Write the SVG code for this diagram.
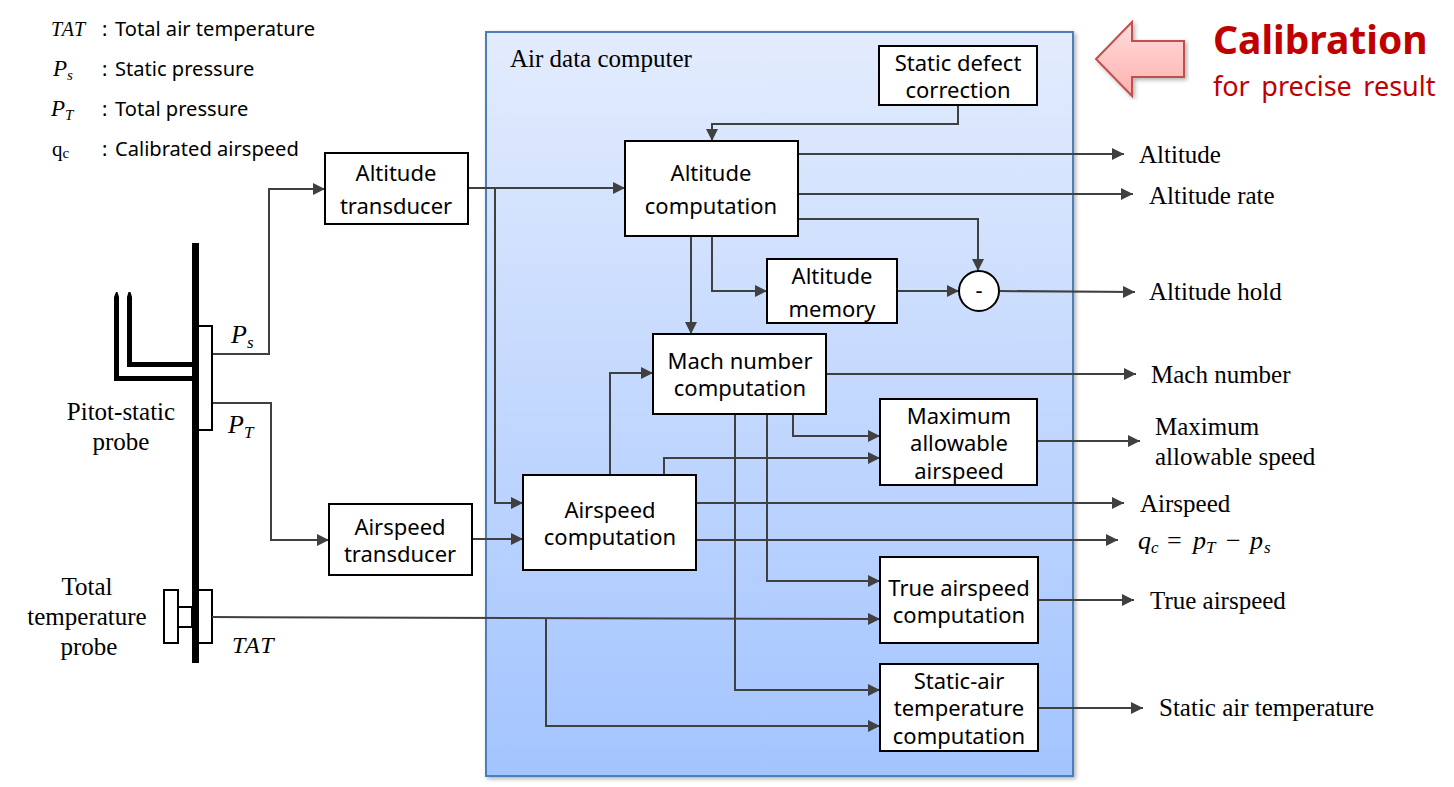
<svg xmlns="http://www.w3.org/2000/svg" width="1454" height="787" viewBox="0 0 1454 787">
<style>
.s{font-family:"Noto Sans","Open Sans",sans-serif;font-size:22px;fill:#000;text-anchor:middle}
.l{font-family:"Noto Sans","Open Sans",sans-serif;font-size:20.1px;fill:#000}
.r{font-family:"Liberation Serif",serif;font-size:25px;fill:#000}
.c{text-anchor:middle}
.m{font-family:"Liberation Serif",serif;font-style:italic;fill:#000}
.u{font-size:15px}
.v{font-size:17px}
.b{fill:#fff;stroke:#000;stroke-width:2}
.a{fill:none;stroke:#404040;stroke-width:2;marker-end:url(#h)}
.p{fill:none;stroke:#000;stroke-width:5}
</style>
<defs>
<marker id="h" markerUnits="userSpaceOnUse" markerWidth="12" markerHeight="12" refX="12" refY="6" orient="auto"><path d="M0 0L12 6L0 12z" fill="#404040"/></marker>
<linearGradient id="g1" x1="0" y1="0" x2="0" y2="1"><stop offset="0" stop-color="#e3ecfd"/><stop offset="1" stop-color="#a3c4ff"/></linearGradient>
<linearGradient id="g2" x1="0" y1="0" x2="0" y2="1"><stop offset="0" stop-color="#ffdcdc"/><stop offset="1" stop-color="#ffb0b0"/></linearGradient>
<filter id="sh" x="-5%" y="-5%" width="110%" height="110%"><feDropShadow dx="2" dy="2" stdDeviation="2" flood-color="#000" flood-opacity=".3"/></filter>
</defs>

<rect id="adc" x="486" y="32" width="587" height="744" fill="url(#g1)" stroke="#4a7ebb" stroke-width="2" filter="url(#sh)"/>
<text class="r" x="510" y="67">Air data computer</text>

<g id="legend">
<text class="m" x="51" y="36" style="font-size:20px" letter-spacing="1">TAT</text><text class="l" x="102" y="36">:</text><text class="l" x="115" y="36">Total air temperature</text>
<text class="m" x="53" y="76" style="font-size:23px">P<tspan class="u" dy="4">s</tspan></text><text class="l" x="102" y="76">:</text><text class="l" x="115" y="76">Static pressure</text>
<text class="m" x="51" y="116" style="font-size:23px">P<tspan class="u" dy="4">T</tspan></text><text class="l" x="102" y="116">:</text><text class="l" x="115" y="116">Total pressure</text>
<text class="r" x="52" y="156" style="font-size:21px">q<tspan class="u" dy="2">c</tspan></text><text class="l" x="102" y="156">:</text><text class="l" x="115" y="156">Calibrated airspeed</text>
</g>

<g id="calibration">
<path d="M1096 59L1132 22V41H1184V77H1132V96z" fill="url(#g2)" stroke="#c0504d" stroke-width="2" filter="url(#sh)"/>
<text x="1213" y="54" font-family="'Noto Sans',sans-serif" font-weight="700" font-size="39" fill="#c00000">Calibration</text>
<text x="1213" y="96" font-family="'Noto Sans',sans-serif" font-size="27" fill="#c00000" word-spacing="4.5">for precise result</text>
</g>

<g id="probes">
<path d="M195.5 243V663" stroke="#000" stroke-width="7" fill="none"/>
<path class="p" d="M192 364.5H129.500V297M192 378.500H116.500V297"/>
<path d="M114 297L116 292H117.500L119 297zM127 297L128.500 292H130.500L132 297z" fill="#000"/>
<rect class="b" x="198" y="326" width="14" height="104"/>
<rect class="b" x="198" y="590" width="14" height="53"/>
<rect class="b" x="164" y="590" width="14" height="53"/>
<rect class="b" x="178" y="607" width="14" height="20"/>
<text class="r c" x="121" y="420">Pitot-static</text>
<text class="r c" x="121" y="450">probe</text>
<text class="r c" x="87" y="595">Total</text>
<text class="r c" x="87" y="625">temperature</text>
<text class="r c" x="89" y="655">probe</text>
<text class="m" x="231" y="343" style="font-size:26px">P<tspan class="v" dy="5">s</tspan></text>
<text class="m" x="228" y="433" style="font-size:26px">P<tspan class="v" dy="5">T</tspan></text>
<text class="m" x="232" y="653" style="font-size:24px" letter-spacing="1.500">TAT</text>
</g>

<g id="connectors">
<path class="a" d="M213 354H269V189H325"/>
<path class="a" d="M213 403H271V540H329"/>
<path class="a" d="M468 188H625"/>
<path class="a" d="M495 188V503H523"/>
<path class="a" d="M472 539H523"/>
<path class="a" d="M958 105V124H712V141"/>
<path class="a" d="M798 154H1124"/>
<path class="a" d="M798 194H1133"/>
<path class="a" d="M798 219H978V271"/>
<path class="a" d="M691 236V334"/>
<path class="a" d="M712 236V291H767"/>
<path class="a" d="M897 291H959"/>
<path class="a" d="M999 291L1135 292"/>
<path class="a" d="M826 374H1136"/>
<path class="a" d="M793 414V436H880"/>
<path class="a" d="M1037 441H1140"/>
<path class="a" d="M610 475V373H653"/>
<path class="a" d="M664 475V458H880"/>
<path class="a" d="M696 503H1124"/>
<path class="a" d="M696 540H1118"/>
<path class="a" d="M767 414V581H880"/>
<path class="a" d="M735 414V690H880"/>
<path class="a" d="M1038 600H1134"/>
<path class="a" d="M1038 708H1143"/>
<path class="a" d="M212 617L880 619"/>
<path class="a" d="M546 618V726H880"/>
</g>

<g id="altitude-transducer"><rect class="b" x="325" y="153" width="143" height="71"/><text class="s" x="396" y="181">Altitude</text><text class="s" x="396" y="214">transducer</text></g>
<g id="airspeed-transducer"><rect class="b" x="329" y="504" width="143" height="71"/><text class="s" x="400" y="535">Airspeed</text><text class="s" x="400" y="562">transducer</text></g>
<g id="static-defect"><rect class="b" x="879" y="46" width="158" height="59"/><text class="s" x="958" y="71">Static defect</text><text class="s" x="958" y="98">correction</text></g>
<g id="altitude-computation"><rect class="b" x="625" y="141" width="173" height="95"/><text class="s" x="711" y="181">Altitude</text><text class="s" x="711" y="214">computation</text></g>
<g id="altitude-memory"><rect class="b" x="767" y="259" width="130" height="64"/><text class="s" x="832" y="284">Altitude</text><text class="s" x="832" y="317">memory</text></g>
<g id="subtract"><circle class="b" cx="979" cy="291" r="20"/><text class="s" x="979" y="298">-</text></g>
<g id="mach"><rect class="b" x="653" y="334" width="173" height="80"/><text class="s" x="740" y="369">Mach number</text><text class="s" x="740" y="396">computation</text></g>
<g id="max-airspeed"><rect class="b" x="880" y="399" width="157" height="86"/><text class="s" x="959" y="424">Maximum</text><text class="s" x="959" y="451">allowable</text><text class="s" x="959" y="479">airspeed</text></g>
<g id="airspeed-computation"><rect class="b" x="523" y="475" width="173" height="95"/><text class="s" x="610" y="518">Airspeed</text><text class="s" x="610" y="545">computation</text></g>
<g id="true-airspeed"><rect class="b" x="880" y="557" width="158" height="86"/><text class="s" x="959" y="596">True airspeed</text><text class="s" x="959" y="623">computation</text></g>
<g id="static-air"><rect class="b" x="880" y="664" width="158" height="87"/><text class="s" x="959" y="689">Static-air</text><text class="s" x="959" y="716">temperature</text><text class="s" x="959" y="744">computation</text></g>

<g id="outputs">
<text class="r" x="1139" y="163">Altitude</text>
<text class="r" x="1149" y="204">Altitude rate</text>
<text class="r" x="1149" y="300">Altitude hold</text>
<text class="r" x="1151" y="383">Mach number</text>
<text class="r" x="1155" y="435">Maximum</text>
<text class="r" x="1155" y="465">allowable speed</text>
<text class="r" x="1140" y="512">Airspeed</text>
<text class="m" x="1138" y="549" style="font-size:26px">q<tspan class="v" x="1151" dy="4">c</tspan><tspan x="1167" dy="-4" font-style="normal">=</tspan><tspan x="1193">p</tspan><tspan class="v" x="1206" dy="4">T</tspan><tspan x="1226" dy="-4" font-style="normal">−</tspan><tspan x="1250">p</tspan><tspan class="v" x="1264" dy="4">s</tspan></text>
<text class="r" x="1150" y="609">True airspeed</text>
<text class="r" x="1159" y="716">Static air temperature</text>
</g>
</svg>
